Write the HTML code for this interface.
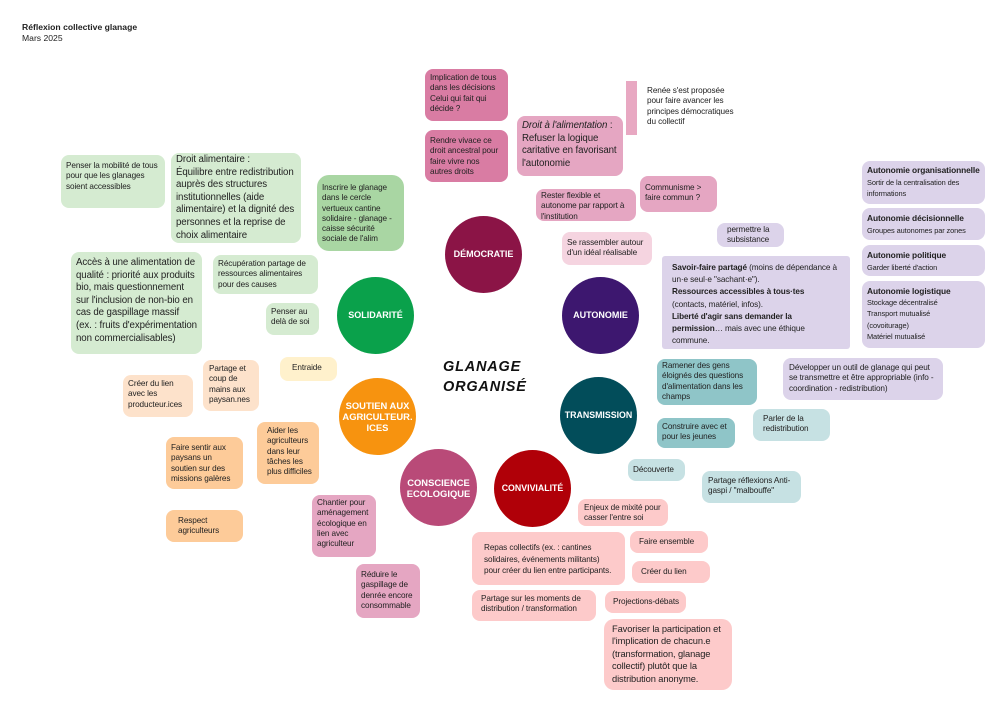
<!DOCTYPE html>
<html><head><meta charset="utf-8"><style>
body{margin:0;width:1000px;height:707px;background:#fff;position:relative;overflow:hidden;font-family:"Liberation Sans",sans-serif;color:#222}
.b{position:absolute;box-sizing:border-box;border-radius:8px;font-size:8.2px;line-height:10.3px;padding:4px 5px;letter-spacing:-0.1px}
.L{font-size:9.7px;line-height:12.6px;letter-spacing:-0.1px}
.c{position:absolute;width:77px;height:77px;border-radius:50%;display:flex;align-items:center;justify-content:center;text-align:center;color:#fff;font-weight:bold;font-size:9px;line-height:11px}
.g{background:#d5ebd1}.gd{background:#a9d6a3}.ol{background:#fde2cb}.o{background:#fdcb99}.y{background:#fff1cc}
.p{background:#e5a6c2}.pd{background:#d97ca3}.pl{background:#f5d4e0}
.v{background:#dcd3ea}.t{background:#8fc5c8}.tl{background:#c6e1e3}.r{background:#fdcaca}
</style></head><body>
<div style="position:absolute;left:22px;top:22px;font-size:8.6px;line-height:11px"><b>Réflexion collective glanage</b><br>Mars 2025</div>

<div class="b g" style="left:61px;top:155px;width:104px;height:53px;padding-top:6px">Penser la mobilité de tous pour que les glanages soient accessibles</div>
<div class="b g L" style="left:171px;top:153px;width:130px;height:90px;padding-top:1px">Droit alimentaire :<br>Équilibre entre redistribution auprès des structures institutionnelles (aide alimentaire) et la dignité des personnes et la reprise de choix alimentaire</div>
<div class="b gd" style="left:317px;top:175px;width:87px;height:76px;border-radius:12px;padding-top:8px">Inscrire le glanage dans le cercle vertueux cantine solidaire - glanage - caisse sécurité sociale de l'alim</div>
<div class="b g L" style="left:71px;top:252px;width:131px;height:102px;padding-top:5px">Accès à une alimentation de qualité : priorité aux produits bio, mais questionnement sur l'inclusion de non-bio en cas de gaspillage massif (ex. : fruits d'expérimentation non commercialisables)</div>
<div class="b g" style="left:213px;top:255px;width:105px;height:39px">Récupération partage de ressources alimentaires pour des causes</div>
<div class="b g" style="left:266px;top:303px;width:53px;height:32px">Penser au delà de soi</div>

<div class="b y" style="left:280px;top:357px;width:57px;height:24px;padding-left:12px;padding-top:6px">Entraide</div>
<div class="b ol" style="left:123px;top:375px;width:70px;height:42px">Créer du lien avec les producteur.ices</div>
<div class="b ol" style="left:203px;top:360px;width:56px;height:51px;padding-left:6px">Partage et coup de mains aux paysan.nes</div>
<div class="b o" style="left:166px;top:437px;width:77px;height:52px;padding-top:6px">Faire sentir aux paysans un soutien sur des missions galères</div>
<div class="b o" style="left:257px;top:422px;width:62px;height:62px;padding-left:10px">Aider les agriculteurs dans leur tâches les plus difficiles</div>
<div class="b o" style="left:166px;top:510px;width:77px;height:32px;padding-left:12px;padding-top:6px">Respect agriculteurs</div>

<div class="b p" style="left:312px;top:495px;width:64px;height:62px;padding-top:3px">Chantier pour aménagement écologique en lien avec agriculteur</div>
<div class="b p" style="left:356px;top:564px;width:64px;height:54px;padding-top:6px">Réduire le gaspillage de denrée encore consommable</div>

<div class="b pd" style="left:425px;top:69px;width:83px;height:52px">Implication de tous dans les décisions Celui qui fait qui décide ?</div>
<div class="b pd" style="left:425px;top:130px;width:83px;height:52px;padding-top:6px">Rendre vivace  ce droit ancestral pour faire vivre nos autres droits</div>
<div class="b p L" style="left:517px;top:116px;width:106px;height:60px;padding-top:4px"><i>Droit à l'alimentation</i> : Refuser la logique caritative en favorisant l'autonomie</div>
<div style="position:absolute;left:626px;top:81px;width:11px;height:54px;background:#e8a8c2"></div>
<div style="position:absolute;left:647px;top:86px;font-size:8.2px;line-height:10.3px;letter-spacing:-0.1px">Renée s'est proposée<br>pour faire avancer les<br>principes démocratiques<br>du collectif</div>
<div class="b p" style="left:536px;top:189px;width:100px;height:32px;padding-top:2px">Rester flexible et autonome par rapport à l'institution</div>
<div class="b p" style="left:640px;top:176px;width:77px;height:36px;padding-top:7px">Communisme &gt; faire commun ?</div>
<div class="b pl" style="left:562px;top:232px;width:90px;height:33px;padding-top:6px">Se rassembler autour d'un idéal réalisable</div>

<div class="b v" style="left:717px;top:223px;width:67px;height:24px;padding:2px 4px 0 10px">permettre la subsistance</div>
<div class="b v" style="left:662px;top:256px;width:188px;height:93px;line-height:12.2px;padding:6px 10px;border-radius:3px"><b>Savoir-faire partagé</b> (moins de dépendance à un·e seul·e "sachant·e").<br><b>Ressources accessibles à tous·tes</b> (contacts, matériel, infos).<br><b>Liberté d'agir sans demander la permission</b>… mais avec une éthique commune.</div>
<div class="b v" style="left:862px;top:161px;width:123px;height:43px;line-height:11.5px;padding:4px 5px"><b style="font-size:8.4px">Autonomie organisationnelle</b><br><span style="font-size:7.4px">Sortir de la centralisation des informations</span></div>
<div class="b v" style="left:862px;top:208px;width:123px;height:32px;line-height:12px;padding:4px 5px"><b style="font-size:8.4px">Autonomie décisionnelle</b><br><span style="font-size:7.4px">Groupes autonomes par zones</span></div>
<div class="b v" style="left:862px;top:245px;width:123px;height:31px;line-height:12px;padding:4px 5px"><b style="font-size:8.4px">Autonomie politique</b><br><span style="font-size:7.4px">Garder liberté d'action</span></div>
<div class="b v" style="left:862px;top:281px;width:123px;height:67px;line-height:11.2px;padding:5px 5px"><b style="font-size:8.4px">Autonomie logistique</b><br><span style="font-size:7.4px">Stockage décentralisé<br>Transport mutualisé<br>(covoiturage)<br>Matériel mutualisé</span></div>
<div class="b v" style="left:783px;top:358px;width:160px;height:42px;padding:5px 6px">Développer un outil de glanage qui peut se transmettre et être appropriable (info - coordination - redistribution)</div>

<div class="b t" style="left:657px;top:359px;width:100px;height:46px;padding-top:2px">Ramener des gens éloignés des questions d'alimentation dans les champs</div>
<div class="b t" style="left:657px;top:418px;width:78px;height:30px;padding-top:4px">Construire avec et pour les jeunes</div>
<div class="b tl" style="left:753px;top:409px;width:77px;height:32px;padding:5px 10px">Parler de la redistribution</div>
<div class="b tl" style="left:628px;top:459px;width:57px;height:22px;padding-top:6px">Découverte</div>
<div class="b tl" style="left:702px;top:471px;width:99px;height:32px;padding:5px 6px">Partage réflexions Anti-gaspi / "malbouffe"</div>

<div class="b r" style="left:578px;top:499px;width:90px;height:27px;padding:4px 6px">Enjeux de mixité pour casser l'entre soi</div>
<div class="b r" style="left:472px;top:532px;width:153px;height:53px;line-height:11.6px;padding:10px 12px">Repas collectifs (ex. : cantines solidaires, événements militants) pour créer du lien entre participants.</div>
<div class="b r" style="left:630px;top:531px;width:78px;height:22px;padding:6px 9px">Faire ensemble</div>
<div class="b r" style="left:632px;top:561px;width:78px;height:22px;padding:6px 9px">Créer du lien</div>
<div class="b r" style="left:472px;top:590px;width:124px;height:31px;padding:4px 9px">Partage sur les moments de distribution / transformation</div>
<div class="b r" style="left:605px;top:591px;width:81px;height:22px;padding:6px 5px 0 8px;white-space:nowrap">Projections-débats</div>
<div class="b r" style="left:604px;top:619px;width:128px;height:71px;padding:4px 8px;border-radius:10px;font-size:9.3px;line-height:12.4px">Favoriser la participation et l'implication de chacun.e (transformation, glanage collectif) plutôt que la distribution anonyme.</div>

<div class="c" style="left:445px;top:216px;background:#8b1446">DÉMOCRATIE</div>
<div class="c" style="left:337px;top:277px;background:#0aa14b">SOLIDARITÉ</div>
<div class="c" style="left:562px;top:277px;background:#3d176f">AUTONOMIE</div>
<div class="c" style="left:339px;top:378px;background:#f7930f;font-size:9.4px">SOUTIEN AUX<br>AGRICULTEUR.<br>ICES</div>
<div class="c" style="left:560px;top:377px;background:#024d5a;font-size:8.8px">TRANSMISSION</div>
<div class="c" style="left:400px;top:449px;background:#b94a78;font-size:9.4px">CONSCIENCE<br>ECOLOGIQUE</div>
<div class="c" style="left:494px;top:450px;background:#b00008;font-size:8.8px">CONVIVIALITÉ</div>

<div style="position:absolute;left:443px;top:357px;font-weight:bold;font-style:italic;font-size:14.5px;line-height:20px;letter-spacing:0.8px;color:#111">GLANAGE<br>ORGANISÉ</div>
</body></html>
